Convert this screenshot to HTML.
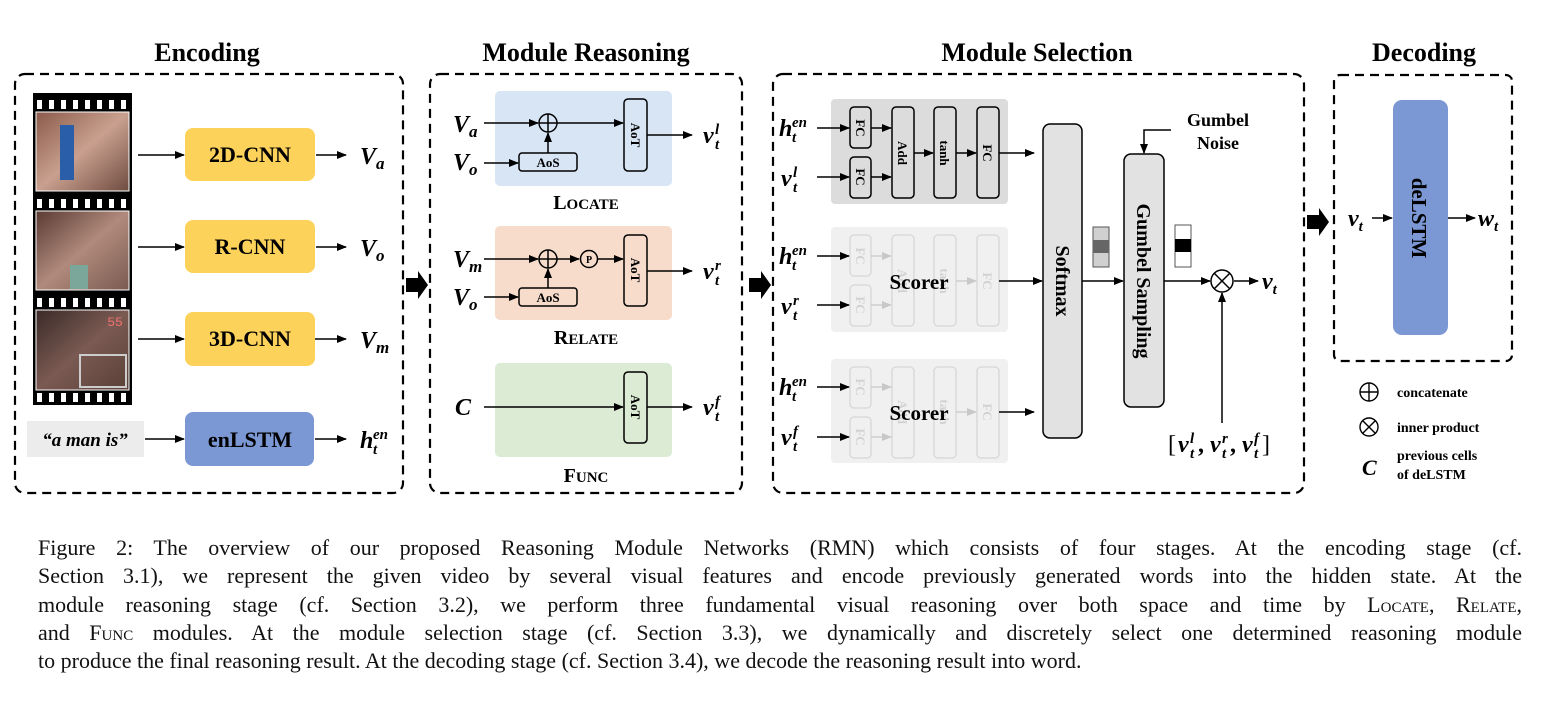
<!DOCTYPE html>
<html><head><meta charset="utf-8">
<style>
html,body{margin:0;padding:0;background:#fff;}
body{width:1560px;height:720px;position:relative;overflow:hidden;}
svg{position:absolute;left:0;top:0;}
.cap{position:absolute;left:38px;width:1484px;font-family:"Liberation Serif",serif;font-size:22px;color:#111;line-height:28.3px;}
.cap div{text-align:justify;text-align-last:justify;white-space:nowrap;height:28.3px;}
.cap div.last{text-align-last:left;}
.sc{font-variant:small-caps;}
</style></head><body>
<svg width="1560" height="720" viewBox="0 0 1560 720" xmlns="http://www.w3.org/2000/svg" font-family="Liberation Serif, serif">
<defs>
<marker id="a" markerWidth="10" markerHeight="8" refX="9" refY="4" orient="auto" markerUnits="userSpaceOnUse"><path d="M0,0 L10,4 L0,8 z" fill="#000"/></marker>
<marker id="g" markerWidth="10" markerHeight="8" refX="9" refY="4" orient="auto" markerUnits="userSpaceOnUse"><path d="M0,0 L10,4 L0,8 z" fill="#c8c8c8"/></marker>
<linearGradient id="f1" x1="0" y1="0" x2="1" y2="1"><stop offset="0" stop-color="#8a5a4a"/><stop offset="0.5" stop-color="#c9a08f"/><stop offset="1" stop-color="#6e4b40"/></linearGradient>
<linearGradient id="f2" x1="0" y1="0" x2="1" y2="1"><stop offset="0" stop-color="#5a3a33"/><stop offset="0.5" stop-color="#b08a7c"/><stop offset="1" stop-color="#7a5a50"/></linearGradient>
<linearGradient id="f3" x1="0" y1="0" x2="1" y2="1"><stop offset="0" stop-color="#3a2a28"/><stop offset="0.5" stop-color="#7a5a52"/><stop offset="1" stop-color="#5a4038"/></linearGradient>
</defs>

<g font-weight="bold" font-size="26" text-anchor="middle" fill="#000">
<text x="207" y="61">Encoding</text>
<text x="586" y="61">Module Reasoning</text>
<text x="1037" y="61">Module Selection</text>
<text x="1424" y="61">Decoding</text>
</g>

<g fill="none" stroke="#000" stroke-width="2.2" stroke-dasharray="9,6">
<rect x="15" y="74" width="388" height="419" rx="10"/>
<rect x="430" y="74" width="312" height="419" rx="10"/>
<rect x="773" y="74" width="531" height="419" rx="10"/>
<rect x="1334" y="75" width="178" height="286" rx="6"/>
</g>

<g fill="#000">
<path d="M406,278 h12 v-7 l10,14 l-10,14 v-7 h-12 z"/>
<path d="M749,278 h12 v-7 l10,14 l-10,14 v-7 h-12 z"/>
<path d="M1307,215 h12 v-7 l10,14 l-10,14 v-7 h-12 z"/>
</g>

<!-- ENCODING -->
<rect x="33" y="93" width="99" height="312" fill="#000"/>
<g fill="#fff">
<rect x="37" y="100" width="5" height="9"/><rect x="49" y="100" width="5" height="9"/><rect x="61" y="100" width="5" height="9"/><rect x="73" y="100" width="5" height="9"/><rect x="85" y="100" width="5" height="9"/><rect x="97" y="100" width="5" height="9"/><rect x="109" y="100" width="5" height="9"/><rect x="121" y="100" width="5" height="9"/>
<rect x="37" y="199" width="5" height="9"/><rect x="49" y="199" width="5" height="9"/><rect x="61" y="199" width="5" height="9"/><rect x="73" y="199" width="5" height="9"/><rect x="85" y="199" width="5" height="9"/><rect x="97" y="199" width="5" height="9"/><rect x="109" y="199" width="5" height="9"/><rect x="121" y="199" width="5" height="9"/>
<rect x="37" y="298" width="5" height="9"/><rect x="49" y="298" width="5" height="9"/><rect x="61" y="298" width="5" height="9"/><rect x="73" y="298" width="5" height="9"/><rect x="85" y="298" width="5" height="9"/><rect x="97" y="298" width="5" height="9"/><rect x="109" y="298" width="5" height="9"/><rect x="121" y="298" width="5" height="9"/>
<rect x="37" y="393" width="5" height="9"/><rect x="49" y="393" width="5" height="9"/><rect x="61" y="393" width="5" height="9"/><rect x="73" y="393" width="5" height="9"/><rect x="85" y="393" width="5" height="9"/><rect x="97" y="393" width="5" height="9"/><rect x="109" y="393" width="5" height="9"/><rect x="121" y="393" width="5" height="9"/>
</g>
<rect x="36" y="112" width="93" height="79" fill="url(#f1)" stroke="#fff"/>
<rect x="60" y="125" width="14" height="55" fill="#2b5ea8"/>
<rect x="36" y="211" width="93" height="79" fill="url(#f2)" stroke="#fff"/>
<rect x="70" y="265" width="18" height="24" fill="#7aa79a"/>
<rect x="36" y="310" width="93" height="80" fill="url(#f3)" stroke="#fff"/>
<text x="115" y="326" font-size="13" fill="#f07070" text-anchor="middle" font-family="Liberation Mono, monospace">55</text>
<rect x="80" y="355" width="46" height="32" fill="none" stroke="#ccc" stroke-width="2"/>

<g fill="#fcd25a"><rect x="185" y="128" width="130" height="53" rx="8"/><rect x="185" y="220" width="130" height="53" rx="8"/><rect x="185" y="312" width="130" height="54" rx="8"/></g>
<rect x="185" y="412" width="129" height="54" rx="8" fill="#7b97d4"/>
<rect x="27" y="421" width="117" height="36" fill="#ececec"/>
<g font-weight="bold" font-size="22" text-anchor="middle" fill="#000">
<text x="250" y="162">2D-CNN</text><text x="250" y="254">R-CNN</text><text x="250" y="346">3D-CNN</text><text x="250" y="447">enLSTM</text>
</g>
<text x="85" y="446" font-weight="bold" font-style="italic" font-size="19" text-anchor="middle">“a man is”</text>
<g stroke="#000" stroke-width="1.6" marker-end="url(#a)">
<line x1="138" y1="155" x2="184" y2="155"/><line x1="138" y1="247" x2="184" y2="247"/><line x1="138" y1="339" x2="184" y2="339"/><line x1="145" y1="439" x2="184" y2="439"/>
<line x1="316" y1="155" x2="346" y2="155"/><line x1="316" y1="247" x2="346" y2="247"/><line x1="315" y1="339" x2="346" y2="339"/><line x1="315" y1="439" x2="346" y2="439"/>
</g>
<g font-weight="bold" font-style="italic" font-size="24" fill="#000">
<text x="360" y="164">V<tspan font-size="17" dy="5">a</tspan></text>
<text x="360" y="256">V<tspan font-size="17" dy="5">o</tspan></text>
<text x="360" y="348">V<tspan font-size="17" dy="5">m</tspan></text>
<text x="360" y="448">h</text>
</g>
<g font-weight="bold" font-style="italic" font-size="15">
<text x="373" y="439">en</text><text x="373" y="454">t</text>
</g>

<!-- MODULE REASONING -->
<rect x="495" y="91" width="177" height="95" rx="5" fill="#d7e5f4"/>
<rect x="495" y="226" width="177" height="94" rx="5" fill="#f7dccb"/>
<rect x="495" y="363" width="177" height="94" rx="5" fill="#dcebd4"/>
<g fill="none" stroke="#000" stroke-width="1.5">
<rect x="624" y="99" width="23" height="72" rx="4"/>
<rect x="624" y="235" width="23" height="71" rx="4"/>
<rect x="624" y="372" width="23" height="71" rx="4"/>
<rect x="519" y="153" width="58" height="18" rx="3"/>
<rect x="519" y="288" width="58" height="18" rx="3"/>
<circle cx="548" cy="123" r="9"/><line x1="539" y1="123" x2="557" y2="123"/><line x1="548" y1="114" x2="548" y2="132"/>
<circle cx="548" cy="259" r="9"/><line x1="539" y1="259" x2="557" y2="259"/><line x1="548" y1="250" x2="548" y2="268"/>
<circle cx="589" cy="259" r="8.5"/>
</g>
<g stroke="#000" stroke-width="1.5" marker-end="url(#a)">
<line x1="484" y1="123" x2="538" y2="123"/><line x1="557" y1="123" x2="623" y2="123"/>
<line x1="484" y1="163" x2="518" y2="163"/><line x1="548" y1="153" x2="548" y2="133"/>
<line x1="647" y1="135" x2="692" y2="135"/>
<line x1="484" y1="259" x2="538" y2="259"/><line x1="557" y1="259" x2="579" y2="259"/><line x1="598" y1="259" x2="623" y2="259"/>
<line x1="484" y1="297" x2="518" y2="297"/><line x1="548" y1="288" x2="548" y2="269"/>
<line x1="647" y1="271" x2="692" y2="271"/>
<line x1="484" y1="407" x2="623" y2="407"/>
<line x1="647" y1="407" x2="692" y2="407"/>
</g>
<g font-weight="bold" font-size="13" text-anchor="middle">
<text x="548" y="167">AoS</text><text x="548" y="302">AoS</text><text x="589" y="263" font-size="10">P</text>
<text transform="translate(631,135) rotate(90)">AoT</text>
<text transform="translate(631,270) rotate(90)">AoT</text>
<text transform="translate(631,407) rotate(90)">AoT</text>
</g>
<g font-weight="bold" font-style="italic" font-size="24" fill="#000">
<text x="453" y="132">V<tspan font-size="17" dy="5">a</tspan></text>
<text x="453" y="170">V<tspan font-size="17" dy="5">o</tspan></text>
<text x="453" y="267">V<tspan font-size="17" dy="5">m</tspan></text>
<text x="453" y="305">V<tspan font-size="17" dy="5">o</tspan></text>
<text x="455" y="415">C</text>
<text x="703" y="143">v</text><text x="703" y="279">v</text><text x="703" y="415">v</text>
</g>
<g font-weight="bold" font-style="italic" font-size="15">
<text x="715" y="134">l</text><text x="715" y="149">t</text>
<text x="715" y="270">r</text><text x="715" y="285">t</text>
<text x="715" y="406">f</text><text x="715" y="421">t</text>
</g>
<g font-weight="bold" font-size="20" text-anchor="middle">
<text x="586" y="209">L<tspan font-size="15">OCATE</tspan></text>
<text x="586" y="344">R<tspan font-size="15">ELATE</tspan></text>
<text x="586" y="482">F<tspan font-size="15">UNC</tspan></text>
</g>

<!-- MODULE SELECTION -->
<rect x="831" y="99" width="177" height="105" rx="4" fill="#dcdcdc"/>
<rect x="831" y="227" width="177" height="105" rx="4" fill="#f0f0f0"/>
<rect x="831" y="359" width="177" height="104" rx="4" fill="#f0f0f0"/>
<g fill="none" stroke="#000" stroke-width="1.5">
<rect x="850" y="107" width="21" height="41" rx="4"/><rect x="850" y="157" width="21" height="41" rx="4"/>
<rect x="892" y="107" width="22" height="91" rx="4"/><rect x="934" y="107" width="22" height="91" rx="4"/><rect x="977" y="107" width="22" height="91" rx="4"/>
</g>
<g fill="none" stroke="#d6d6d6" stroke-width="1.3">
<rect x="850" y="235" width="21" height="41" rx="4"/><rect x="850" y="285" width="21" height="41" rx="4"/>
<rect x="892" y="235" width="22" height="91" rx="4"/><rect x="934" y="235" width="22" height="91" rx="4"/><rect x="977" y="235" width="22" height="91" rx="4"/>
<rect x="850" y="367" width="21" height="41" rx="4"/><rect x="850" y="417" width="21" height="41" rx="4"/>
<rect x="892" y="367" width="22" height="91" rx="4"/><rect x="934" y="367" width="22" height="91" rx="4"/><rect x="977" y="367" width="22" height="91" rx="4"/>
</g>
<g stroke="#000" stroke-width="1.5" marker-end="url(#a)">
<line x1="871" y1="128" x2="891" y2="128"/><line x1="871" y1="177" x2="891" y2="177"/>
<line x1="914" y1="153" x2="933" y2="153"/><line x1="956" y1="153" x2="976" y2="153"/>
</g>
<g stroke="#c8c8c8" stroke-width="1.3" marker-end="url(#g)">
<line x1="871" y1="256" x2="891" y2="256"/><line x1="871" y1="305" x2="891" y2="305"/><line x1="956" y1="281" x2="976" y2="281"/>
<line x1="871" y1="387" x2="891" y2="387"/><line x1="871" y1="437" x2="891" y2="437"/><line x1="956" y1="412" x2="976" y2="412"/>
</g>
<g font-weight="bold" font-size="13" text-anchor="middle">
<text transform="translate(856,128) rotate(90)">FC</text>
<text transform="translate(856,177) rotate(90)">FC</text>
<text transform="translate(898,153) rotate(90)">Add</text>
<text transform="translate(940,153) rotate(90)">tanh</text>
<text transform="translate(983,153) rotate(90)">FC</text>
</g>
<g font-weight="bold" font-size="13" text-anchor="middle" fill="#d2d2d2">
<text transform="translate(856,256) rotate(90)">FC</text><text transform="translate(856,305) rotate(90)">FC</text>
<text transform="translate(898,281) rotate(90)">Add</text><text transform="translate(940,281) rotate(90)">tanh</text><text transform="translate(983,281) rotate(90)">FC</text>
<text transform="translate(856,387) rotate(90)">FC</text><text transform="translate(856,437) rotate(90)">FC</text>
<text transform="translate(898,412) rotate(90)">Add</text><text transform="translate(940,412) rotate(90)">tanh</text><text transform="translate(983,412) rotate(90)">FC</text>
</g>
<g font-weight="bold" font-size="21" text-anchor="middle"><text x="919" y="289">Scorer</text><text x="919" y="420">Scorer</text></g>

<g stroke="#000" stroke-width="1.5" marker-end="url(#a)">
<line x1="817" y1="128" x2="849" y2="128"/><line x1="817" y1="177" x2="849" y2="177"/>
<line x1="817" y1="256" x2="849" y2="256"/><line x1="817" y1="305" x2="849" y2="305"/>
<line x1="817" y1="387" x2="849" y2="387"/><line x1="817" y1="437" x2="849" y2="437"/>
<line x1="999" y1="153" x2="1034" y2="153"/><line x1="999" y1="281" x2="1042" y2="281"/><line x1="999" y1="412" x2="1034" y2="412"/>
<line x1="1082" y1="281" x2="1123" y2="281"/>
<polyline points="1171,130 1144,130 1144,153" fill="none"/>
<line x1="1164" y1="281" x2="1210" y2="281"/>
<line x1="1234" y1="281" x2="1258" y2="281"/>
<line x1="1222" y1="423" x2="1222" y2="293"/>
<line x1="1372" y1="218" x2="1392" y2="218"/>
<line x1="1448" y1="218" x2="1475" y2="218"/>
</g>
<g font-weight="bold" font-style="italic" font-size="24" fill="#000">
<text x="779" y="136">h</text>
<text x="781" y="186">v</text>
<text x="779" y="264">h</text>
<text x="781" y="314">v</text>
<text x="779" y="395">h</text>
<text x="781" y="445">v</text>
<text x="1262" y="289">v<tspan font-size="15" dy="5">t</tspan></text>
<text x="1348" y="226">v<tspan font-size="15" dy="5">t</tspan></text>
<text x="1478" y="226">w<tspan font-size="15" dy="5">t</tspan></text>
<text x="1178" y="452">v</text><text x="1210" y="452">v</text><text x="1242" y="452">v</text>
</g>
<g font-weight="bold" font-style="italic" font-size="15">
<text x="792" y="127">en</text><text x="792" y="142">t</text>
<text x="793" y="177">l</text><text x="793" y="192">t</text>
<text x="792" y="255">en</text><text x="792" y="270">t</text>
<text x="793" y="305">r</text><text x="793" y="320">t</text>
<text x="792" y="386">en</text><text x="792" y="401">t</text>
<text x="793" y="436">f</text><text x="793" y="451">t</text>
<text x="1190" y="443">l</text><text x="1190" y="458">t</text>
<text x="1222" y="443">r</text><text x="1222" y="458">t</text>
<text x="1254" y="443">f</text><text x="1254" y="458">t</text>
</g>
<g font-size="24" fill="#000">
<text x="1168" y="452">[</text>
<text x="1198" y="452" font-weight="bold">,</text>
<text x="1230" y="452" font-weight="bold">,</text>
<text x="1262" y="452">]</text>
</g>

<rect x="1043" y="124" width="39" height="314" rx="7" fill="#e2e2e2" stroke="#000" stroke-width="1.5"/>
<rect x="1124" y="154" width="40" height="253" rx="7" fill="#e2e2e2" stroke="#000" stroke-width="1.5"/>
<g font-weight="bold" font-size="20" text-anchor="middle">
<text transform="translate(1056,281) rotate(90)">Softmax</text>
<text transform="translate(1137,281) rotate(90)">Gumbel Sampling</text>
<text x="1218" y="126" font-size="18">Gumbel</text>
<text x="1218" y="149" font-size="18">Noise</text>
</g>
<rect x="1093" y="227" width="16" height="40" fill="#d0d0d0" stroke="#555" stroke-width="1"/>
<rect x="1093" y="240" width="16" height="13" fill="#666"/>
<rect x="1175" y="225" width="16" height="42" fill="#fff" stroke="#555" stroke-width="1"/>
<rect x="1175" y="239" width="16" height="13" fill="#000"/>
<g fill="none" stroke="#000" stroke-width="1.5">
<circle cx="1222" cy="281" r="11"/><line x1="1214" y1="273" x2="1230" y2="289"/><line x1="1230" y1="273" x2="1214" y2="289"/>
</g>

<!-- DECODING -->
<rect x="1393" y="100" width="55" height="235" rx="9" fill="#7b97d4"/>
<text transform="translate(1412,218) rotate(90)" font-weight="bold" font-size="21" text-anchor="middle">deLSTM</text>

<g fill="none" stroke="#000" stroke-width="1.4">
<circle cx="1369" cy="392" r="9"/><line x1="1360" y1="392" x2="1378" y2="392"/><line x1="1369" y1="383" x2="1369" y2="401"/>
<circle cx="1369" cy="427" r="9"/><line x1="1363" y1="421" x2="1375" y2="433"/><line x1="1375" y1="421" x2="1363" y2="433"/>
</g>
<g font-weight="bold" font-size="14">
<text x="1397" y="397">concatenate</text>
<text x="1397" y="432">inner product</text>
<text x="1397" y="460">previous cells</text>
<text x="1397" y="479">of deLSTM</text>
<text x="1362" y="475" font-style="italic" font-size="22">C</text>
</g>
</svg>

<div class="cap" style="top:534px;">
<div>Figure 2: The overview of our proposed Reasoning Module Networks (RMN) which consists of four stages. At the encoding stage (cf.</div>
<div>Section 3.1), we represent the given video by several visual features and encode previously generated words into the hidden state. At the</div>
<div>module reasoning stage (cf. Section 3.2), we perform three fundamental visual reasoning over both space and time by <span class="sc">Locate</span>, <span class="sc">Relate</span>,</div>
<div>and <span class="sc">Func</span> modules. At the module selection stage (cf. Section 3.3), we dynamically and discretely select one determined reasoning module</div>
<div class="last">to produce the final reasoning result. At the decoding stage (cf. Section 3.4), we decode the reasoning result into word.</div>
</div>
</body></html>
